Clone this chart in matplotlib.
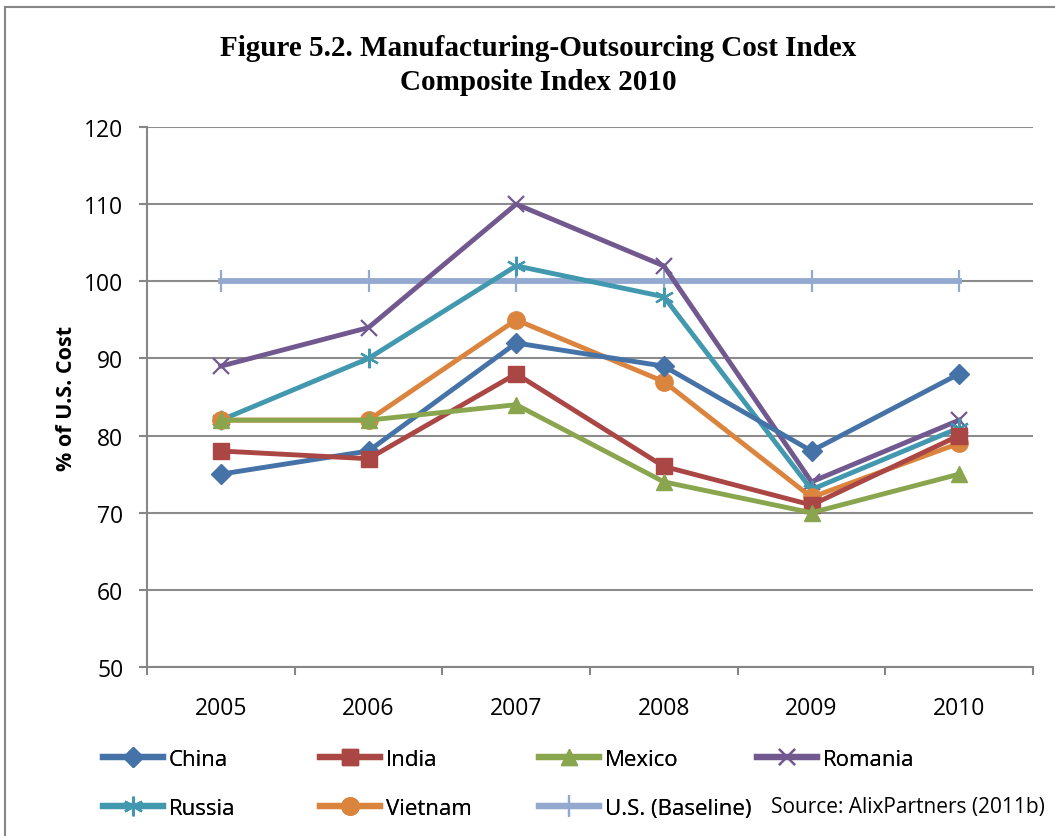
import matplotlib
matplotlib.use("Agg")
import matplotlib.pyplot as plt
from matplotlib.patches import Rectangle
from matplotlib.lines import Line2D

# data
years = ["2005", "2006", "2007", "2008", "2009", "2010"]
china = [75, 78, 92, 89, 78, 88]
india = [78, 77, 88, 76, 71, 80]
mexico = [82, 82, 84, 74, 70, 75]
romania = [89, 94, 110, 102, 74, 82]
russia = [82, 90, 102, 98, 73, 81]
vietnam = [82, 82, 95, 87, 72, 79]
us_baseline = [100, 100, 100, 100, 100, 100]

series = [
    ("China", china, "#4572A7", "D", 10),
    ("India", india, "#AA4643", "s", 11),
    ("Mexico", mexico, "#89A54E", "^", 12),
    ("Romania", romania, "#71588F", "x", 12),
    ("Russia", russia, "#4198AF", (6, 2, 0), 14),
    ("Vietnam", vietnam, "#DB843D", "o", 12.5),
    ("U.S. (Baseline)", us_baseline, "#93A9CF", "|", 16),
]
# drawing order: baseline at the back
draw_order = [6, 3, 4, 5, 0, 1, 2]

FONT = "Open Sans"

fig = plt.figure(figsize=(10.55, 8.37), dpi=100)
ax = fig.add_axes([147 / 1055, 1 - 668 / 837, (1033 - 147) / 1055, (668 - 128) / 837])

x = [i + 0.5 for i in range(len(years))]
handles = {}
for idx in draw_order:
    name, vals, col, mk, ms = series[idx]
    mew = 1.6 if mk in ("x", "|") or isinstance(mk, tuple) else 1
    lw = 4.2 if name.startswith("U.S.") else 3.5
    ln, = ax.plot(x, vals, color=col, lw=lw, marker=mk, markersize=ms,
                  markeredgewidth=mew, markerfacecolor=col, markeredgecolor=col,
                  solid_joinstyle="round", zorder=3)
    handles[name] = ln

ax.set_xlim(0, 6)
ax.set_ylim(50, 120)
ax.set_yticks(range(50, 121, 10))
ax.set_xticks(range(0, 7))
ax.set_xticks(x, minor=True)
ax.set_xticklabels([])
ax.set_xticklabels(years, minor=True)
ax.tick_params(axis="x", which="major", length=6, width=1.5, color="#868686", direction="out")
ax.tick_params(axis="x", which="minor", length=0, pad=21, labelsize=16.5)
ax.tick_params(axis="y", length=6, width=1.5, color="#868686", pad=11, labelsize=16.5)
for lab in ax.get_xticklabels(minor=True) + ax.get_yticklabels():
    lab.set_fontfamily(FONT)

ax.yaxis.grid(True, color="#8C8C8C", lw=1.5)
ax.set_axisbelow(True)
for s in ("top", "right"):
    ax.spines[s].set_visible(False)
for s in ("left", "bottom"):
    ax.spines[s].set_color("#868686")
    ax.spines[s].set_linewidth(1.5)

ax.set_ylabel("% of U.S. Cost", fontfamily=FONT, fontweight="bold", fontsize=15.5, labelpad=5)

fig.text(538 / 1055, 1 - 48 / 837, "Figure 5.2. Manufacturing-Outsourcing Cost Index",
         ha="center", va="center", fontfamily="Liberation Serif", fontweight="bold", fontsize=21)
fig.text(538 / 1055, 1 - 82 / 837, "Composite Index 2010",
         ha="center", va="center", fontfamily="Liberation Serif", fontweight="bold", fontsize=21)

# legend: four columns laid out like the Excel legend
columns = [["China", "Russia"], ["India", "Vietnam"], ["Mexico", "U.S. (Baseline)"], ["Romania"]]
col_x = [103, 320, 539, 757]
for cx, names in zip(col_x, columns):
    hs = []
    for n in names:
        h = handles[n]
        hs.append(Line2D([], [], color=h.get_color(), lw=4.5, marker=h.get_marker(),
                         markersize=h.get_markersize(), markerfacecolor=h.get_color(),
                         markeredgecolor=h.get_color(), markeredgewidth=h.get_markeredgewidth()))
    leg = fig.legend(hs, names, loc="upper left", bbox_to_anchor=(cx / 1055, 1 - 750 / 837),
                     frameon=False, handlelength=2.7, handletextpad=0.25, labelspacing=1.25,
                     borderaxespad=0, borderpad=0, prop={"family": FONT, "size": 16})
    fig.add_artist(leg)

fig.text(771 / 1055, 1 - 808 / 837, "Source: AlixPartners (2011b)", ha="left", va="center",
         fontfamily=FONT, fontsize=15)

# chart area border
fig.add_artist(Rectangle((5 / 1055, -0.05), 1.1, 1 - 8 / 837 + 0.05, transform=fig.transFigure,
                         fill=False, edgecolor="#868686", lw=1.5))

fig.savefig("out.png", dpi=100)
